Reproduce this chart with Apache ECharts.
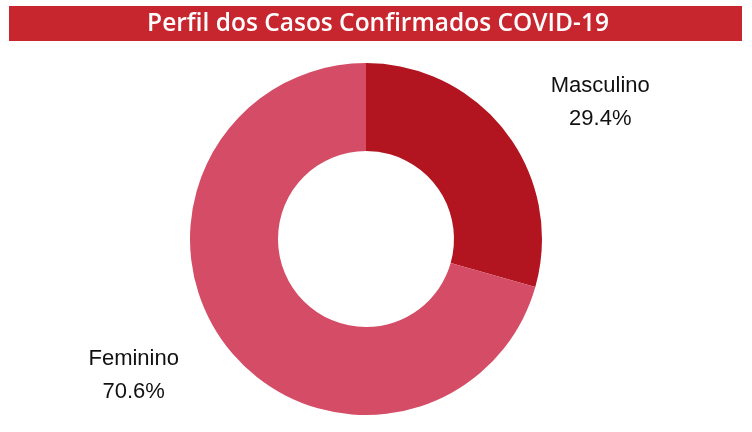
<!DOCTYPE html>
<html>
<head>
<meta charset="utf-8">
<script src="https://cdn.jsdelivr.net/npm/echarts@6/dist/echarts.min.js"></script>
<style>
html,body{margin:0;padding:0;background:#fff;}
#chart{width:752px;height:432px;}
</style>
</head>
<body>
<div id="chart"></div>
<script>
var titleText = 'Perfil dos Casos Confirmados COVID-19';
var categories = ['Masculino', 'Feminino'];
var values = [29.4, 70.6];
var colors = ['#b2151f', '#d44c65'];
var labelWidths = [108, 104];

var chart = echarts.init(document.getElementById('chart'), null, {renderer: 'canvas'});
var data = categories.map(function (c, i) {
  return {
    name: c,
    value: values[i],
    itemStyle: {color: colors[i]},
    label: {
      rich: {
        a: {width: labelWidths[i], align: 'center', fontSize: 22, lineHeight: 33, color: '#111', fontFamily: 'Liberation Sans, Arial, sans-serif'}
      }
    }
  };
});
chart.setOption({
  animation: false,
  graphic: [
    {type: 'rect', shape: {x: 9, y: 6, width: 733, height: 35}, style: {fill: '#c8262f'}, z: 1},
    {type: 'text', x: 378, y: 24, z: 2, style: {text: titleText, fill: '#fff', font: '600 24.5px "Open Sans", sans-serif', textAlign: 'center', textVerticalAlign: 'middle'}}
  ],
  series: [{
    type: 'pie',
    center: [366, 239],
    radius: [88, 176],
    startAngle: 90,
    clockwise: true,
    percentPrecision: 1,
    avoidLabelOverlap: false,
    label: {
      show: true,
      position: 'outside',
      distanceToLabelLine: 0,
      formatter: '{a|{b}}\n{a|{d}%}'
    },
    labelLine: {show: false, length: 50, length2: 0},
    emphasis: {disabled: true},
    data: data
  }]
});
</script>
</body>
</html>
